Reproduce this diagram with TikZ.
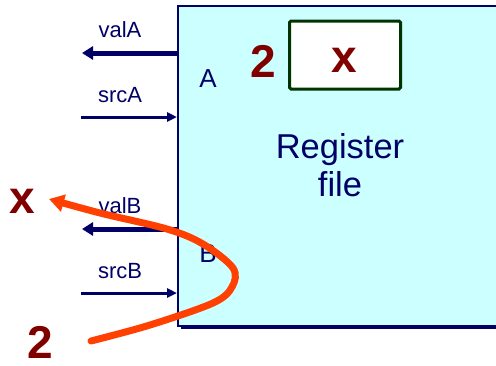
\documentclass[tikz,border=0pt]{standalone}
\usepackage{fontspec}
\setmainfont{Liberation Sans}
\usetikzlibrary{arrows.meta,shadows}
\definecolor{navy}{RGB}{0,0,102}
\definecolor{cellfill}{RGB}{204,255,255}
\definecolor{darkred}{RGB}{128,0,0}
\definecolor{boxgreen}{RGB}{0,51,0}
\definecolor{tracecol}{RGB}{255,64,0}
\begin{document}
\begin{tikzpicture}[x=1pt,y=-1pt,
  regbox/.style={draw=navy, line width=1.5pt, fill=cellfill, anchor=north west,
    minimum width=330pt, minimum height=320pt, inner sep=0pt,
    drop shadow={shadow xshift=3pt, shadow yshift=-3pt, fill=navy, opacity=1}},
  cellbox/.style={draw=boxgreen, line width=3pt, fill=white, rounded corners=1.5pt,
    minimum width=111pt, minimum height=68pt, inner sep=0pt},
  portlabel/.style={text=navy, font=\fontsize{22}{24}\selectfont, anchor=base, inner sep=0pt},
  portname/.style={text=navy, font=\fontsize{26}{28}\selectfont, anchor=base, inner sep=0pt},
  titletext/.style={text=navy, font=\fontsize{34.5}{38}\selectfont, anchor=base, inner sep=0pt},
  bigval/.style={text=darkred, font=\bfseries\fontsize{46}{48}\selectfont, anchor=base, inner sep=0pt},
  bus/.style={navy, line width=5pt, -{Triangle[length=11pt,width=13pt]}},
  sig/.style={navy, line width=3pt, -{Triangle[length=10pt,width=9pt]}},
  trace/.style={tracecol, line width=7pt, line cap=round, line join=round,
    -{Triangle[length=15pt,width=17pt]}}
]
\useasboundingbox (0,0) rectangle (496,365);

% register file body
\node[regbox] (rf) at (177,5) {};

% register cell holding x at index 2
\node[cellbox] (cell) at (345,55) {};
\node[bigval] (cellval) at (344,72) {x};
\node[bigval] (cellidx) at (263,77) {2};

% title
\node[titletext] (t1) at (340,158) {Register};
\node[titletext] (t2) at (340,196) {file};

% port names
\node[portname] (pA) at (208,87) {A};
\node[portname] (pB) at (208,262) {B};

% port connection points on the left edge
\path (rf.north west) ++(0,48) coordinate (valAport);
\path (rf.north west) ++(0,112) coordinate (srcAport);
\path (rf.north west) ++(0,224) coordinate (valBport);
\path (rf.north west) ++(0,288) coordinate (srcBport);
\coordinate (valAend) at (82,53);
\coordinate (srcAbeg) at (81,117);
\coordinate (valBend) at (82,229);
\coordinate (srcBbeg) at (81,293);

\draw[bus] (valAport) -- (valAend);
\draw[sig] (srcAbeg) -- (srcAport);
\draw[bus] (valBport) -- (valBend);
\draw[sig] (srcBbeg) -- (srcBport);

\node[portlabel] (lvalA) at (120,37) {valA};
\node[portlabel] (lsrcA) at (120,102) {srcA};
\node[portlabel] (lvalB) at (120,213) {valB};
\node[portlabel] (lsrcB) at (120,278) {srcB};

% outside values
\node[bigval] (outx) at (22,213) {x};
\node[bigval] (in2) at (40,358) {2};

% hand-drawn read path
\draw[trace] plot[smooth, tension=0.55] coordinates
  {(91,341) (150,325) (213,303) (232,287) (233,268) (203,244) (167,229) (100,213) (49,199)};
\end{tikzpicture}
\end{document}
